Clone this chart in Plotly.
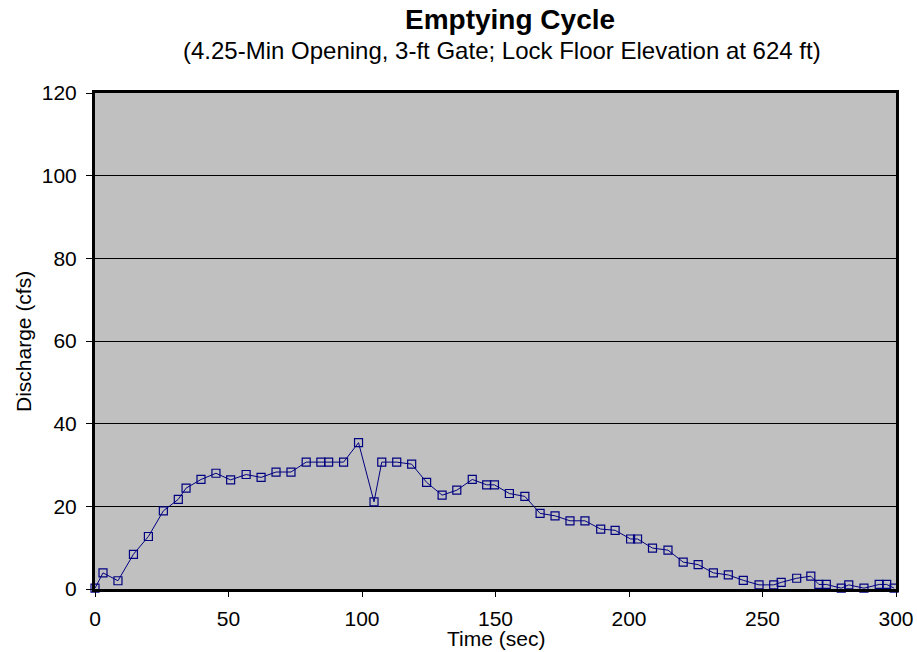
import plotly.graph_objects as go

time_sec = [0, 3.0, 8.6, 14.4, 20.0, 25.6, 31.2, 34.1, 39.7, 45.3, 50.8, 56.6, 62.2, 67.8,
            73.4, 79.1, 84.6, 87.5, 93.1, 98.7, 104.5, 107.4, 113.0, 118.6, 124.2, 130.0,
            135.5, 141.3, 146.7, 149.6, 155.2, 161.0, 166.7, 172.3, 177.9, 183.5, 189.4,
            194.8, 200.6, 203.2, 208.8, 214.6, 220.3, 225.9, 231.6, 237.2, 242.8, 248.7,
            254.2, 257.0, 262.8, 268.1, 271.1, 273.9, 279.5, 282.3, 288.0, 293.7, 296.5, 299.3]
discharge = [0.2, 3.9, 2.0, 8.4, 12.7, 18.9, 21.7, 24.4, 26.5, 28.0, 26.4, 27.7, 27.0, 28.3,
             28.3, 30.7, 30.7, 30.7, 30.7, 35.4, 21.1, 30.7, 30.7, 30.2, 25.8, 22.7,
             23.9, 26.5, 25.2, 25.2, 23.1, 22.4, 18.3, 17.7, 16.5, 16.5, 14.5,
             14.2, 12.1, 12.1, 9.9, 9.4, 6.5, 5.9, 3.9, 3.4, 2.1, 1.0,
             1.0, 1.6, 2.6, 3.1, 1.1, 1.1, 0.2, 1.0, 0.2, 1.1, 1.1, 0.2]

x_ticks = [0, 50, 100, 150, 200, 250, 300]
y_ticks = [0, 20, 40, 60, 80, 100, 120]

navy = "#000080"
fnt = dict(family="Arial, Liberation Sans, sans-serif", color="black")


def py(pixel_y):
    return (589 - pixel_y) / 496


def px(pixel_x):
    return (pixel_x - 95) / 801


fig = go.Figure()
fig.add_trace(go.Scatter(
    x=time_sec, y=discharge, mode="lines+markers",
    line=dict(color=navy, width=1),
    marker=dict(symbol="square-open", size=8, color=navy, line=dict(width=1.2, color=navy)),
    showlegend=False, cliponaxis=False,
))

fig.update_layout(
    width=917, height=652,
    margin=dict(l=95, r=21, t=93, b=63),
    paper_bgcolor="white", plot_bgcolor="#C0C0C0",
    font=dict(size=21, **fnt),
    xaxis=dict(range=[0, 300], tickvals=x_ticks, showgrid=False, zeroline=False,
               showline=True, mirror=True, linewidth=3, linecolor="black", automargin=False,
               ticks="outside", ticklen=5, tickcolor="black", ticklabelstandoff=4,
               tickfont=dict(size=21, **fnt)),
    yaxis=dict(range=[0, 120], tickvals=y_ticks, showgrid=True, gridcolor="black", gridwidth=1,
               zeroline=False, showline=True, mirror=True, linewidth=3, linecolor="black",
               automargin=False, ticks="outside", ticklen=6, tickcolor="black", ticklabelstandoff=5,
               tickfont=dict(size=21, **fnt)),
    annotations=[
        dict(text="<b>Emptying Cycle</b>", x=px(510), y=py(20), xref="paper", yref="paper",
             xanchor="center", yanchor="middle", showarrow=False, font=dict(size=28, **fnt)),
        dict(text="(4.25-Min Opening, 3-ft Gate; Lock Floor Elevation at 624 ft)", x=px(501.5),
             y=py(50), xref="paper", yref="paper", xanchor="center", yanchor="middle",
             showarrow=False, font=dict(size=24, **fnt)),
        dict(text="Time (sec)", x=px(496), y=py(638.5), xref="paper", yref="paper",
             xanchor="center", yanchor="middle", showarrow=False, font=dict(size=21, **fnt)),
        dict(text="Discharge (cfs)", x=px(23), y=py(342), xref="paper", yref="paper",
             xanchor="center", yanchor="middle", textangle=-90, showarrow=False, font=dict(size=21, **fnt)),
    ],
)

fig.write_html("out.html")
